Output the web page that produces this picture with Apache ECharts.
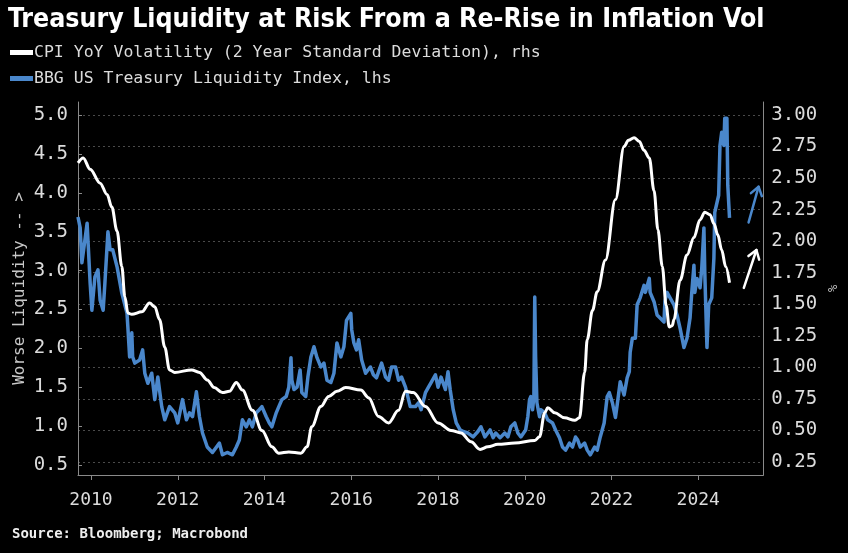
<!DOCTYPE html>
<html>
<head>
<meta charset="utf-8">
<script src="https://cdn.jsdelivr.net/npm/echarts@6/dist/echarts.min.js"></script>
<style>
html,body{margin:0;padding:0;background:#000;}
#c{width:848px;height:553px;}
</style>
</head>
<body>
<div id="c"></div>
<script>
// ---- Data ----
const titleText = 'Treasury Liquidity at Risk From a Re-Rise in Inflation Vol';
const sourceText = 'Source: Bloomberg; Macrobond';
const cpiName = 'CPI YoY Volatility (2 Year Standard Deviation), rhs';
const liqName = 'BBG US Treasury Liquidity Index, lhs';

const xTicks = [2010, 2012, 2014, 2016, 2018, 2020, 2022, 2024];
const leftTicks = [0.5, 1.0, 1.5, 2.0, 2.5, 3.0, 3.5, 4.0, 4.5, 5.0];
const rightTicks = [0.25, 0.5, 0.75, 1.0, 1.25, 1.5, 1.75, 2.0, 2.25, 2.5, 2.75, 3.0];

// BBG US Treasury Liquidity Index (lhs)
const liqYears = [2009.70,2009.75,2009.79,2009.91,2009.98,2010.02,2010.09,2010.16,2010.21,2010.28,2010.32,2010.39,2010.44,2010.50,2010.60,2010.71,2010.83,2010.85,2010.89,2010.94,2010.96,2011.01,2011.12,2011.19,2011.24,2011.31,2011.40,2011.47,2011.54,2011.63,2011.70,2011.81,2011.93,2012.00,2012.11,2012.20,2012.27,2012.34,2012.43,2012.50,2012.57,2012.68,2012.80,2012.84,2012.96,2013.03,2013.14,2013.26,2013.35,2013.42,2013.49,2013.58,2013.65,2013.72,2013.81,2013.88,2013.94,2014.04,2014.11,2014.17,2014.27,2014.33,2014.40,2014.50,2014.56,2014.61,2014.63,2014.68,2014.75,2014.82,2014.86,2014.95,2015.00,2015.07,2015.14,2015.21,2015.30,2015.37,2015.44,2015.53,2015.60,2015.67,2015.76,2015.83,2015.89,2015.99,2016.01,2016.06,2016.12,2016.17,2016.24,2016.33,2016.44,2016.51,2016.58,2016.70,2016.79,2016.86,2016.93,2017.02,2017.09,2017.16,2017.25,2017.32,2017.36,2017.48,2017.55,2017.61,2017.71,2017.78,2017.84,2017.94,2018.00,2018.07,2018.17,2018.23,2018.28,2018.35,2018.42,2018.51,2018.58,2018.69,2018.81,2018.92,2018.99,2019.08,2019.20,2019.27,2019.33,2019.43,2019.54,2019.61,2019.68,2019.77,2019.84,2019.91,2020.02,2020.07,2020.11,2020.14,2020.18,2020.21,2020.23,2020.25,2020.28,2020.34,2020.37,2020.46,2020.53,2020.64,2020.71,2020.80,2020.87,2020.94,2021.03,2021.10,2021.17,2021.22,2021.28,2021.38,2021.44,2021.51,2021.61,2021.67,2021.74,2021.83,2021.90,2021.95,2022.02,2022.09,2022.13,2022.20,2022.29,2022.36,2022.41,2022.43,2022.48,2022.55,2022.59,2022.66,2022.75,2022.78,2022.87,2022.89,2022.98,2023.05,2023.12,2023.21,2023.23,2023.28,2023.35,2023.44,2023.51,2023.58,2023.67,2023.74,2023.81,2023.85,2023.90,2023.92,2023.97,2024.04,2024.08,2024.13,2024.15,2024.20,2024.24,2024.31,2024.36,2024.38,2024.47,2024.50,2024.54,2024.59,2024.61,2024.66,2024.68,2024.72];
const liqValues = [3.69,3.55,3.10,3.61,2.84,2.49,2.92,3.01,2.62,2.49,2.84,3.50,3.27,3.27,3.05,2.71,2.45,2.27,1.89,2.20,1.89,1.81,1.85,1.98,1.68,1.55,1.68,1.34,1.63,1.25,1.08,1.25,1.17,1.04,1.34,1.08,1.17,1.12,1.44,1.12,0.91,0.73,0.66,0.66,0.78,0.63,0.66,0.63,0.73,0.82,1.08,0.99,1.08,0.99,1.17,1.21,1.25,1.12,1.04,0.99,1.17,1.25,1.34,1.38,1.50,1.88,1.59,1.47,1.50,1.72,1.43,1.38,1.63,1.89,2.02,1.88,1.76,1.81,1.59,1.56,1.68,2.07,1.89,2.02,2.36,2.45,2.24,2.07,1.98,2.11,1.85,1.68,1.76,1.66,1.62,1.81,1.63,1.59,1.76,1.76,1.59,1.63,1.50,1.34,1.25,1.25,1.30,1.21,1.43,1.50,1.56,1.66,1.50,1.63,1.47,1.70,1.47,1.21,1.04,0.95,0.93,0.91,0.86,0.93,0.99,0.86,0.95,0.85,0.91,0.85,0.91,0.86,0.99,1.04,0.91,0.86,0.95,1.12,1.34,1.38,1.21,1.38,2.66,1.89,1.30,1.12,1.21,1.17,1.08,1.04,0.95,0.85,0.73,0.69,0.78,0.73,0.86,0.82,0.73,0.78,0.69,0.63,0.73,0.69,0.86,1.04,1.38,1.43,1.30,1.11,1.27,1.57,1.40,1.62,1.70,1.95,2.13,2.13,2.56,2.65,2.81,2.72,2.90,2.72,2.60,2.43,2.39,2.34,2.60,2.72,2.65,2.56,2.43,2.26,2.01,2.13,2.39,2.72,3.07,2.72,2.90,2.78,3.03,3.55,2.98,2.01,2.56,2.65,3.16,3.75,3.97,4.61,4.78,4.61,4.96,4.96,4.10,3.68];

// CPI YoY Volatility, 2y standard deviation (rhs, %)
const cpiYears = [2009.70,2009.82,2009.98,2010.21,2010.37,2010.48,2010.60,2010.71,2010.78,2010.85,2010.94,2011.17,2011.35,2011.47,2011.58,2011.70,2011.81,2011.93,2012.32,2012.50,2012.68,2012.84,2013.03,2013.19,2013.35,2013.49,2013.72,2013.94,2014.17,2014.33,2014.56,2014.84,2014.98,2015.09,2015.30,2015.48,2015.67,2015.87,2016.22,2016.40,2016.63,2016.86,2017.09,2017.25,2017.43,2017.71,2018.00,2018.30,2018.53,2018.76,2018.97,2019.15,2019.38,2019.77,2020.23,2020.34,2020.46,2020.53,2020.69,2020.92,2021.15,2021.26,2021.38,2021.44,2021.56,2021.67,2021.86,2022.09,2022.29,2022.39,2022.52,2022.64,2022.75,2022.87,2022.98,2023.07,2023.17,2023.26,2023.33,2023.40,2023.44,2023.58,2023.74,2023.90,2024.04,2024.15,2024.27,2024.36,2024.45,2024.54,2024.63,2024.72];
const cpiValues = [2.62,2.66,2.57,2.46,2.37,2.27,2.08,1.80,1.56,1.43,1.42,1.44,1.51,1.48,1.38,1.16,0.98,0.96,0.98,0.96,0.90,0.84,0.80,0.81,0.88,0.82,0.66,0.50,0.37,0.32,0.33,0.32,0.37,0.53,0.69,0.77,0.81,0.84,0.82,0.76,0.61,0.56,0.66,0.81,0.80,0.69,0.56,0.50,0.48,0.41,0.35,0.37,0.39,0.40,0.42,0.45,0.64,0.68,0.64,0.60,0.58,0.60,0.96,1.22,1.45,1.60,1.85,2.33,2.75,2.80,2.82,2.79,2.72,2.66,2.40,2.09,1.80,1.49,1.32,1.33,1.38,1.69,1.89,2.03,2.17,2.23,2.21,2.14,2.05,1.93,1.80,1.67];

// Annotation arrows (data coordinates: [year, value], axis index)
const whiteArrow = {from: [2025.05, 1.63], to: [2025.34, 1.93], yAxis: 1};
const blueArrow = {from: [2025.16, 3.62], to: [2025.39, 4.08], yAxis: 0};

// ---- Chart ----
const MONO = "'DejaVu Sans Mono', 'Liberation Mono', monospace";
const BLUE = '#4a87cb';
const AXIS = '#8a8a8a';
const LABEL = '#dcdcdc';

const zip = (a, b) => a.map((v, i) => [v, b[i]]);

const chart = echarts.init(document.getElementById('c'), null, {renderer: 'canvas'});
chart.setOption({
  backgroundColor: '#000',
  animation: false,
  title: [
    {text: titleText, left: 3, top: 2,
     textStyle: {color: '#fff', fontSize: 26.5, fontWeight: 'bold',
       fontFamily: "'Liberation Sans Narrow','DejaVu Sans Condensed','DejaVu Sans',sans-serif"}},
    {text: sourceText, left: 7, top: 522,
     textStyle: {color: '#eee', fontSize: 14, fontWeight: 'bold', fontFamily: MONO}}
  ],
  legend: {
    data: [cpiName, liqName], orient: 'vertical', left: 5, top: 39,
    itemWidth: 23, itemHeight: 5, icon: 'rect', itemGap: 9,
    textStyle: {color: LABEL, fontSize: 16.5, fontFamily: MONO, padding: [0, 0, 0, -4]},
    selectedMode: false
  },
  grid: {left: 78, right: 81, top: 102, bottom: 78, containLabel: false},
  xAxis: {
    type: 'value', min: 2009.7, max: 2025.5,
    axisLine: {show: true, lineStyle: {color: AXIS, width: 1}},
    axisTick: {show: true, customValues: xTicks, length: 5, lineStyle: {color: AXIS}},
    axisLabel: {customValues: xTicks, formatter: v => String(Math.round(v)), color: LABEL,
      fontSize: 18, fontFamily: MONO, margin: 16},
    splitLine: {show: false}
  },
  yAxis: [
    {
      type: 'value', position: 'left', min: 0.37, max: 5.17,
      name: 'Worse Liquidity -- >', nameLocation: 'middle', nameGap: 50, nameRotate: 90,
      nameMoveOverlap: false,
      nameTextStyle: {color: '#c8c8c8', fontSize: 16, fontFamily: MONO},
      axisLine: {show: true, lineStyle: {color: AXIS}},
      axisTick: {show: true, inside: true, length: 4, customValues: leftTicks, lineStyle: {color: AXIS}},
      axisLabel: {customValues: leftTicks, formatter: v => v.toFixed(1), color: LABEL,
        fontSize: 19, fontFamily: MONO, margin: 10},
      splitLine: {show: false}
    },
    {
      type: 'value', position: 'right', min: 0.147, max: 3.103,
      name: '%', nameLocation: 'middle', nameGap: 62, nameRotate: 90,
      nameTextStyle: {color: '#c8c8c8', fontSize: 12, fontFamily: MONO},
      axisLine: {show: true, lineStyle: {color: AXIS}},
      axisTick: {show: false, customValues: rightTicks},
      axisLabel: {customValues: rightTicks, formatter: v => v.toFixed(2), color: LABEL,
        fontSize: 19, fontFamily: MONO, margin: 8},
      splitLine: {show: true, lineStyle: {color: '#4a4a4a', type: [2, 3], width: 1}}
    }
  ],
  series: [
    {name: liqName, type: 'line', yAxisIndex: 0, data: zip(liqYears, liqValues),
     showSymbol: false, symbol: 'none', color: BLUE,
     lineStyle: {color: BLUE, width: 3.5, join: 'round'}, z: 2},
    {name: cpiName, type: 'line', yAxisIndex: 1, data: zip(cpiYears, cpiValues),
     showSymbol: false, symbol: 'none', smooth: 0.35, smoothMonotone: 'x', color: '#fff',
     lineStyle: {color: '#fff', width: 3, join: 'round'}, z: 3}
  ]
});

function arrowGraphic(a, color) {
  const p0 = chart.convertToPixel({xAxisIndex: 0, yAxisIndex: a.yAxis}, a.from);
  const p1 = chart.convertToPixel({xAxisIndex: 0, yAxisIndex: a.yAxis}, a.to);
  const ang = Math.atan2(p1[1] - p0[1], p1[0] - p0[0]);
  const L = 10, sp = 0.6;
  const h1 = [p1[0] - L * Math.cos(ang - sp), p1[1] - L * Math.sin(ang - sp)];
  const h2 = [p1[0] - L * Math.cos(ang + sp), p1[1] - L * Math.sin(ang + sp)];
  return [
    {type: 'polyline', shape: {points: [p0, p1]}, style: {stroke: color, lineWidth: 2.5, lineCap: 'round'}, z: 10},
    {type: 'polyline', shape: {points: [h1, p1, h2]}, style: {stroke: color, lineWidth: 2.5, lineCap: 'round', lineJoin: 'round'}, z: 10}
  ];
}
chart.setOption({graphic: [...arrowGraphic(whiteArrow, '#fff'), ...arrowGraphic(blueArrow, BLUE)]});
</script>
</body>
</html>
